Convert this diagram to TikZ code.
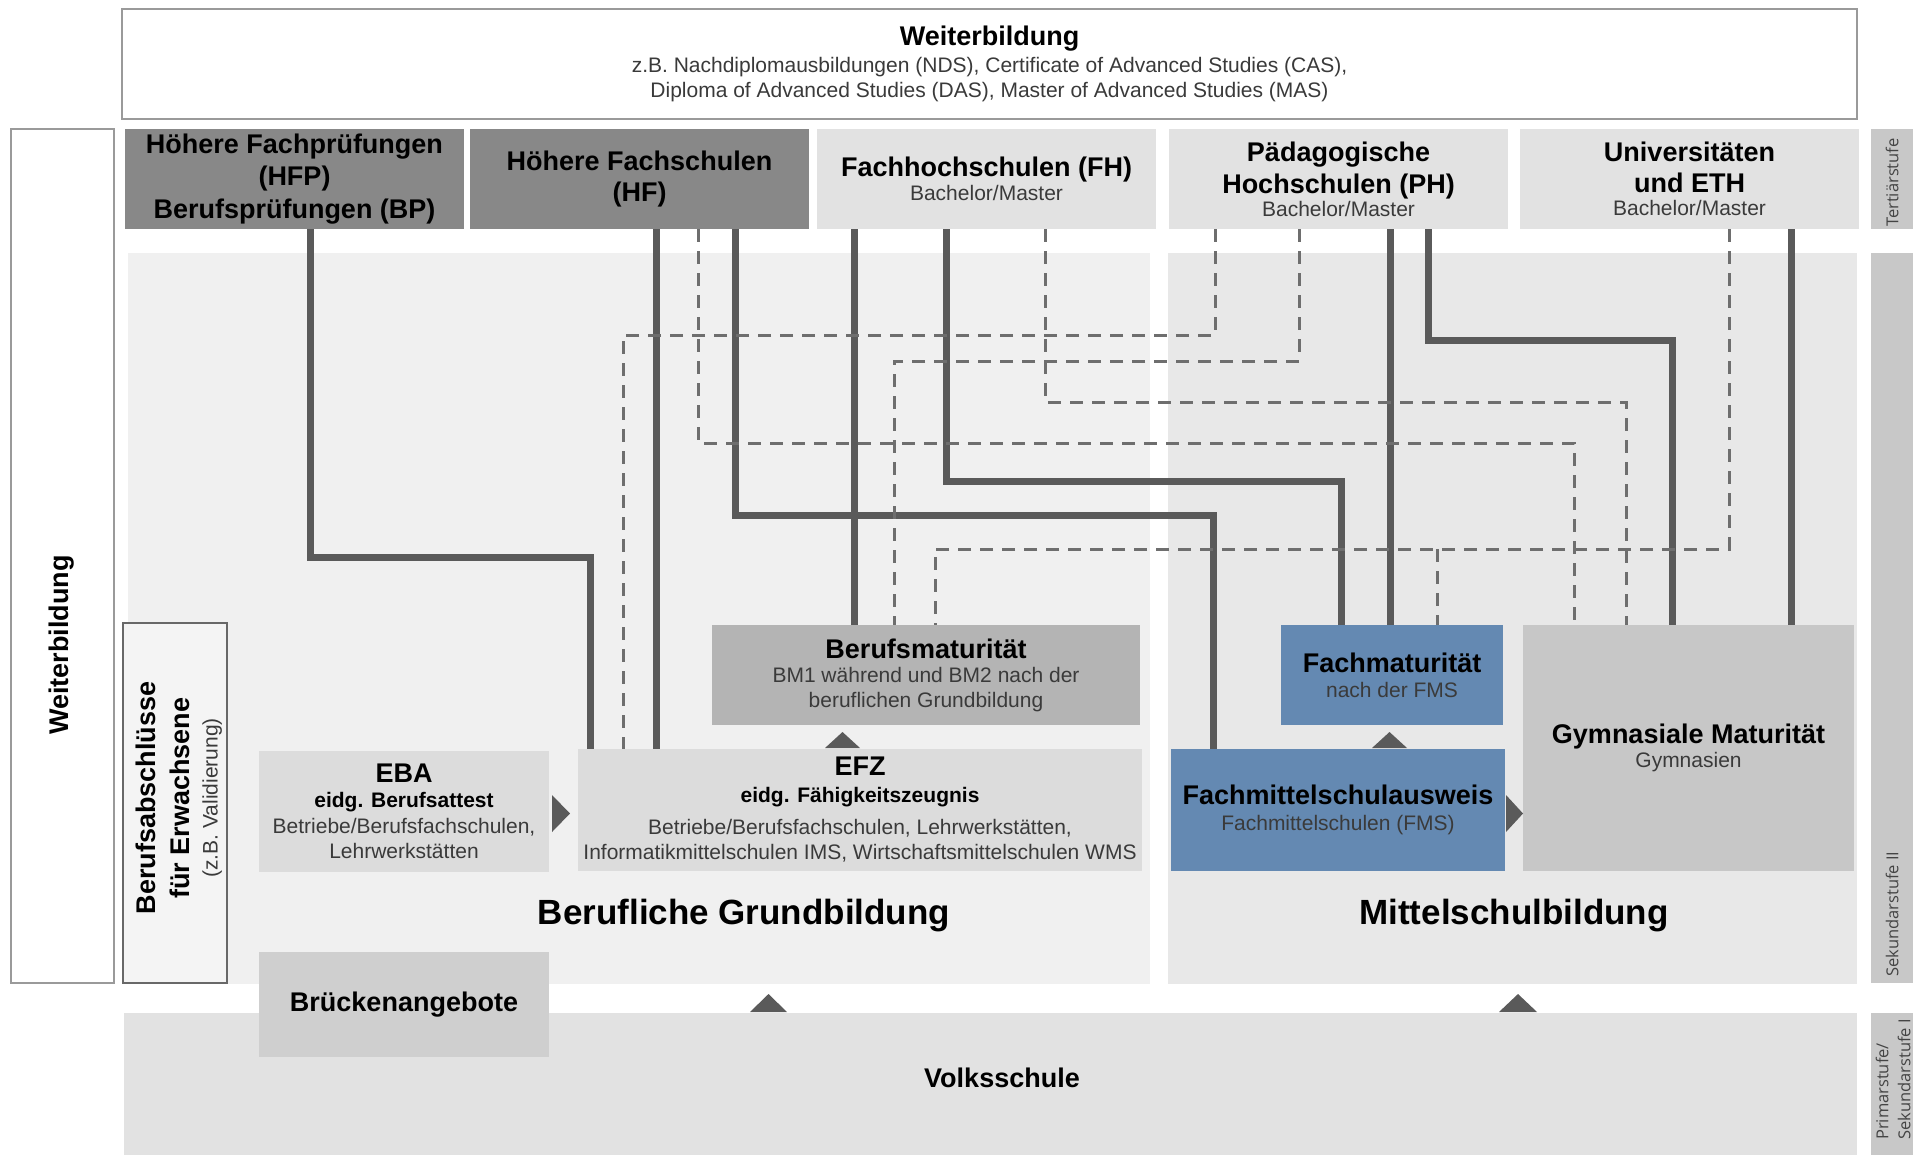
\documentclass[tikz,border=0pt]{standalone}
\usepackage{fontspec}
\setmainfont{Liberation Sans}
\newfontfamily\stufenschrift{Open Sans}
\usetikzlibrary{positioning}
\definecolor{dunkel}{HTML}{888888}
\definecolor{hell}{HTML}{E2E2E2}
\definecolor{band}{HTML}{C8C8C8}
\definecolor{berufgrund}{HTML}{F0F0F0}
\definecolor{mittel}{HTML}{E8E8E8}
\definecolor{lehre}{HTML}{DCDCDC}
\definecolor{bmgrau}{HTML}{B4B4B4}
\definecolor{gymgrau}{HTML}{C7C7C7}
\definecolor{bruecke}{HTML}{CFCFCF}
\definecolor{fmsblau}{HTML}{6489B2}
\definecolor{linie}{HTML}{5A5A5A}
\definecolor{strich}{HTML}{6E6E6E}
\definecolor{subtext}{HTML}{3A3A3A}
\definecolor{rand}{HTML}{9A9A9A}
\definecolor{randdunkel}{HTML}{686868}
\definecolor{hellweiss}{HTML}{F4F4F4}
\definecolor{stufentext}{HTML}{444444}
\newcommand{\gross}{\fontsize{27}{31}\selectfont\bfseries\color{black}}
\newcommand{\halbfett}{\fontsize{21}{25}\selectfont\bfseries\color{black}}
\tikzstyle{every picture}+=[x=1pt,y=-1pt]
\tikzstyle{every picture}+=[line join=miter]
\tikzstyle{every picture}+=[node distance=6pt]
\tikzstyle{feld}+=[anchor=north west, inner sep=0pt, outer sep=0pt]
\tikzstyle{feld}+=[align=center, text=subtext]
\tikzstyle{feld}+=[font=\fontsize{21}{25}\selectfont]
\tikzstyle{oben}+=[feld, minimum width=339, minimum height=100]
\tikzstyle{pfad}+=[draw=linie, line width=7pt]
\tikzstyle{ast}+=[draw=strich, line width=3pt, dash pattern=on 13pt off 9pt]
\tikzstyle{spitze}+=[fill=linie]
\tikzstyle{stufe}+=[rotate=90, inner sep=0pt, text=stufentext]
\tikzstyle{stufe}+=[font=\stufenschrift\fontsize{16.5}{22}\selectfont]
\begin{document}
\begin{tikzpicture}
\useasboundingbox (0,0) rectangle (1913,1154);

% Hintergrund
\node[feld, fill=berufgrund, minimum width=1022, minimum height=731] (bgb) at (128,253) {};
\node[feld, fill=mittel, minimum width=689, minimum height=731] (msb) at (1168,253) {};
\node[feld, fill=hell, minimum width=1733, minimum height=142] (volks) at (124,1013) {};
\node[feld, fill=band, minimum width=42, minimum height=100] (ter) at (1871,129) {};
\node[feld, fill=band, minimum width=42, minimum height=730] (sek) at (1871,253) {};
\node[feld, fill=band, minimum width=42, minimum height=142] (prim) at (1871,1013) {};

% Weiterbildung
\node[feld, draw=rand, line width=2.5pt, fill=white, minimum width=1735, minimum height=110] (wb) at (122,9)
  {{\gross Weiterbildung}\\[2pt]z.B. Nachdiplomausbildungen (NDS), Certificate of Advanced Studies (CAS),\\Diploma of Advanced Studies (DAS), Master of Advanced Studies (MAS)};
\node[feld, draw=rand, line width=2.5pt, fill=white, minimum width=103, minimum height=854] (wbl) at (11,129) {};
\node[rotate=90, font=\gross] (wbltext) at (62,645) {Weiterbildung};
\node[feld, draw=randdunkel, line width=2.5pt, fill=hellweiss, minimum width=104, minimum height=360] (bae) at (123,623) {};
\node[rotate=90, align=center, text=subtext, font=\fontsize{21}{25}\selectfont] (baetext) at (179,798)
  {{\gross Berufsabschlüsse}\\[9pt]{\gross für Erwachsene}\\[3pt](z.B. Validierung)};

% Tertiaerstufe
\node[oben, fill=dunkel] (hfp) at (125,129) {{\gross Höhere Fachprüfungen}\\[6pt]{\gross (HFP)}\\[6pt]{\gross Berufsprüfungen (BP)}};
\node[oben, fill=dunkel, right=6pt of hfp] (hf) {{\gross Höhere Fachschulen}\\[6pt]{\gross (HF)}};
\node[oben, fill=hell, right=8pt of hf] (fh) {{\gross Fachhochschulen (FH)}\\[-1pt]Bachelor/Master};
\node[oben, fill=hell, right=13pt of fh] (ph) {{\gross Pädagogische}\\[6pt]{\gross Hochschulen (PH)}\\[-2pt]Bachelor/Master};
\node[oben, fill=hell, right=12pt of ph] (uni) {{\gross Universitäten}\\[6pt]{\gross und ETH}\\[-2pt]Bachelor/Master};

% Sekundarstufe II
\node[feld, fill=bmgrau, minimum width=428, minimum height=100] (bm) at (712,625)
  {{\gross Berufsmaturität}\\[-1pt]BM1 während und BM2 nach der\\beruflichen Grundbildung};
\node[feld, fill=lehre, minimum width=290, minimum height=121] (eba) at (259,751)
  {{\gross EBA}\\[0pt]{\halbfett eidg. Berufsattest}\\[1pt]Betriebe/Berufsfachschulen,\\Lehrwerkstätten};
\node[feld, fill=lehre, minimum width=564, minimum height=122] (efz) at (578,749)
  {{\gross EFZ}\\[2pt]{\halbfett eidg. Fähigkeitszeugnis}\\[7pt]Betriebe/Berufsfachschulen, Lehrwerkstätten,\\Informatikmittelschulen IMS, Wirtschaftsmittelschulen WMS};
\node[feld, fill=fmsblau, minimum width=222, minimum height=100] (fmat) at (1281,625)
  {{\gross Fachmaturität}\\[0pt]nach der FMS};
\node[feld, fill=fmsblau, minimum width=334, minimum height=122] (fms) at (1171,749)
  {{\gross Fachmittelschulausweis}\\[1pt]Fachmittelschulen (FMS)};
\node[feld, fill=gymgrau, minimum width=331, minimum height=246] (gym) at (1523,625)
  {{\gross Gymnasiale Maturität}\\[-1pt]Gymnasien};
\node[feld, fill=bruecke, minimum width=290, minimum height=105] (bru) at (259,952) {{\gross Brückenangebote}};

\node[font=\fontsize{35}{40}\selectfont\bfseries] (bgbtitel) at (744,916) {Berufliche Grundbildung};
\node[font=\fontsize{35}{40}\selectfont\bfseries] (msbtitel) at (1514,916) {Mittelschulbildung};
\node[font=\gross] (volkstext) at (1002,1078) {Volksschule};

\node[stufe, anchor=west] (tertext) at (1892,227) {Tertiärstufe};
\node[stufe, anchor=west] (sektext) at (1892,977) {Sekundarstufe II};
\node[stufe, anchor=west, align=left] (primtext) at (1893,1140) {Primarstufe/\\Sekundarstufe I};

% Wege
\draw[pfad] (310,0 |- hfp.south) |- (590,557) -- (590,0 |- efz.north);
\draw[pfad] (656,0 |- hf.south) -- (656,0 |- efz.north);
\draw[pfad] (735,0 |- hf.south) |- (1213,515) -- (1213,0 |- fms.north);
\draw[pfad] (854,0 |- fh.south) -- (854,0 |- bm.north);
\draw[pfad] (946,0 |- fh.south) |- (1341,481) -- (1341,0 |- fmat.north);
\draw[pfad] (1390,0 |- ph.south) -- (1390,0 |- fmat.north);
\draw[pfad] (1428,0 |- ph.south) |- (1672,340) -- (1672,0 |- gym.north);
\draw[pfad] (1791,0 |- uni.south) -- (1791,0 |- gym.north);

\draw[ast] (698,0 |- hf.south) |- (1574,443) -- (1574,0 |- gym.north);
\draw[ast] (1045,0 |- fh.south) |- (1626,402) -- (1626,0 |- gym.north);
\draw[ast] (1215,0 |- ph.south) |- (623,335) -- (623,0 |- efz.north);
\draw[ast] (1299,0 |- ph.south) |- (894,361) -- (894,0 |- bm.north);
\draw[ast] (1729,0 |- uni.south) |- (935,549) -- (935,0 |- bm.north);
\coordinate (abzweig) at (1437,549);
\draw[ast] (abzweig) -- (abzweig |- fmat.north);

% Pfeilspitzen
\fill[spitze] (552,795) -- (570,813.5) -- (552,832) -- cycle;
\fill[spitze] (825,748) -- (842.5,732) -- (860,748) -- cycle;
\fill[spitze] (1506,795) -- (1523,813.5) -- (1506,832) -- cycle;
\fill[spitze] (1372,748) -- (1389.5,732) -- (1407,748) -- cycle;
\fill[spitze] (750,1012) -- (768.5,994) -- (787,1012) -- cycle;
\fill[spitze] (1499,1012) -- (1518,994) -- (1537,1012) -- cycle;
\end{tikzpicture}
\end{document}
